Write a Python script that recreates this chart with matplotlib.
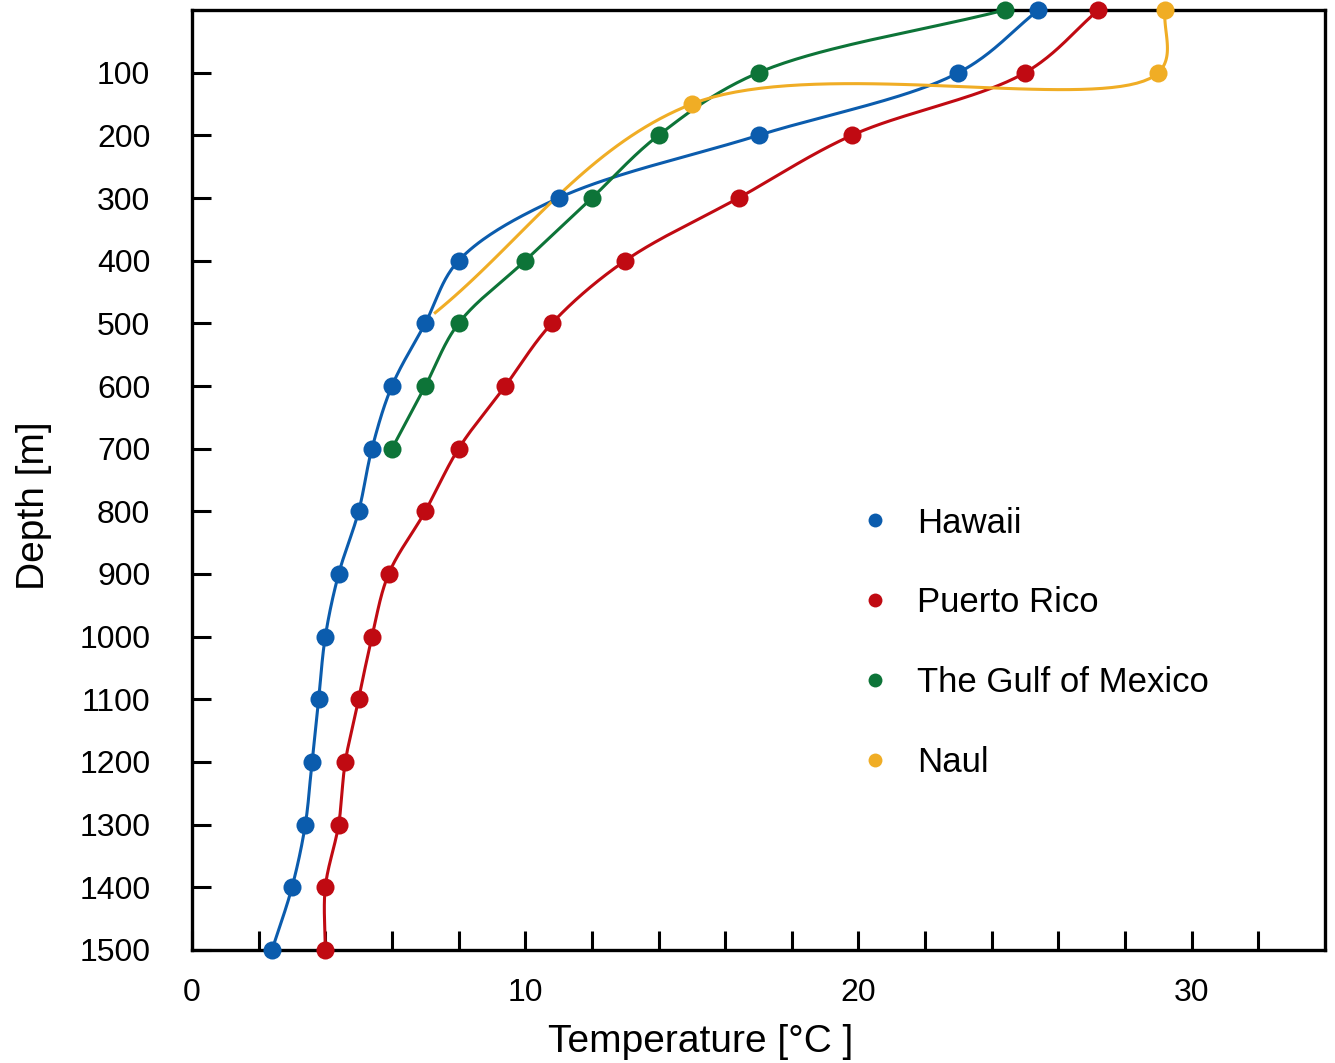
import numpy as np
import matplotlib
matplotlib.use("Agg")
import matplotlib.pyplot as plt
from matplotlib.lines import Line2D

# dati: temperatura [°C] e profondita [m]
hawaii_t = [25.4, 23.0, 17.0, 11.0, 8.0, 7.0, 6.0, 5.4, 5.0, 4.4, 4.0, 3.8, 3.6, 3.4, 3.0, 2.4]
hawaii_d = [0, 100, 200, 300, 400, 500, 600, 700, 800, 900, 1000, 1100, 1200, 1300, 1400, 1500]

pr_t = [27.2, 25.0, 19.8, 16.4, 13.0, 10.8, 9.4, 8.0, 7.0, 5.9, 5.4, 5.0, 4.6, 4.4, 4.0, 4.0]
pr_d = [0, 100, 200, 300, 400, 500, 600, 700, 800, 900, 1000, 1100, 1200, 1300, 1400, 1500]

gulf_t = [24.4, 17.0, 14.0, 12.0, 10.0, 8.0, 7.0, 6.0]
gulf_d = [0, 100, 200, 300, 400, 500, 600, 700]

naul_t = [29.2, 29.0, 15.0, 7.3]
naul_d = [0, 100, 150, 483]
naul_mark = [0, 1, 2]   # l'ultimo punto non ha marcatore

colori = {'Hawaii': '#0b5cad', 'Puerto Rico': '#c00a12', 'The Gulf of Mexico': '#0d7438', 'Naul': '#f0ad25'}

XMAX = 34
YMAX = 1500
ASPECT = 940 / 1133


def spline(xs, ys, n=40):
    # catmull-rom centripeta, calcolata in coordinate normalizzate
    P = np.column_stack([np.array(xs) / XMAX, np.array(ys) / YMAX * ASPECT])
    P = np.vstack([2 * P[0] - P[1], P, 2 * P[-1] - P[-2]])
    out = []
    for i in range(1, len(P) - 2):
        p0, p1, p2, p3 = P[i - 1], P[i], P[i + 1], P[i + 2]
        t0 = 0.0
        t1 = t0 + np.linalg.norm(p1 - p0) ** 0.5
        t2 = t1 + np.linalg.norm(p2 - p1) ** 0.5
        t3 = t2 + np.linalg.norm(p3 - p2) ** 0.5
        t = np.linspace(t1, t2, n)[:, None]
        A1 = (t1 - t) / (t1 - t0) * p0 + (t - t0) / (t1 - t0) * p1
        A2 = (t2 - t) / (t2 - t1) * p1 + (t - t1) / (t2 - t1) * p2
        A3 = (t3 - t) / (t3 - t2) * p2 + (t - t2) / (t3 - t2) * p3
        B1 = (t2 - t) / (t2 - t0) * A1 + (t - t0) / (t2 - t0) * A2
        B2 = (t3 - t) / (t3 - t1) * A2 + (t - t1) / (t3 - t1) * A3
        C = (t2 - t) / (t2 - t1) * B1 + (t - t1) / (t2 - t1) * B2
        out.append(C)
    C = np.vstack(out)
    return C[:, 0] * XMAX, C[:, 1] / ASPECT * YMAX


plt.rcParams['font.family'] = ['Liberation Sans', 'DejaVu Sans']

fig = plt.figure(figsize=(13.35, 10.63), dpi=100)
ax = fig.add_axes([192 / 1335, 1 - 950 / 1063, 1133 / 1335, 940 / 1063])

serie = [
    ('Hawaii', hawaii_t, hawaii_d, None),
    ('Puerto Rico', pr_t, pr_d, None),
    ('The Gulf of Mexico', gulf_t, gulf_d, None),
    ('Naul', naul_t, naul_d, naul_mark),
]

for nome, t, d, mk in serie:
    c = colori[nome]
    sx, sy = spline(t, d)
    ax.plot(sx, sy, color=c, lw=2.2, zorder=3, clip_on=False)
    tt = np.array(t)
    dd = np.array(d)
    if mk is not None:
        tt = tt[mk]
        dd = dd[mk]
    ax.plot(tt, dd, 'o', color=c, ms=13, mew=0, zorder=4, clip_on=False)

ax.set_xlim(0, XMAX)
ax.set_ylim(YMAX, 0)

ax.set_xticks(np.arange(0, 33, 2))
ax.set_xticklabels([str(v) if v % 10 == 0 else '' for v in range(0, 33, 2)])
ax.set_yticks(np.arange(100, 1501, 100))
ax.set_yticklabels([str(v) for v in range(100, 1501, 100)])

ax.tick_params(axis='both', direction='in', length=14, width=2.2, labelsize=23)
ax.tick_params(axis='y', pad=30)
ax.tick_params(axis='x', pad=20)

for sp in ax.spines.values():
    sp.set_linewidth(2.4)

ax.set_xlabel('Temperature [°C ]', fontsize=28)
ax.set_ylabel('Depth [m]', fontsize=28)
ax.xaxis.set_label_coords(0.449, -0.079)
ax.yaxis.set_label_coords(-0.124, 0.473)

handles = [Line2D([], [], ls='none', marker='o', ms=10, mew=0, color=colori[n]) for n, _, _, _ in serie]
ax.legend(handles, [n for n, _, _, _ in serie], loc='upper left', bbox_to_anchor=(0.56, 0.505),
          frameon=False, fontsize=25, labelspacing=1.35, handlelength=1.0, handletextpad=0.7)

fig.savefig('out.png', dpi=100)
